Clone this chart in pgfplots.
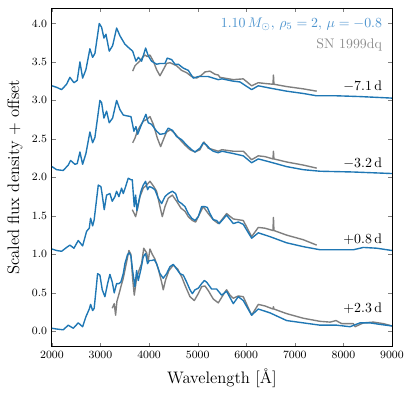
\documentclass[border=0pt]{standalone}
\usepackage{pgfplots}
\pgfplotsset{compat=1.18}
\definecolor{model}{HTML}{1F77B4}
\definecolor{obs}{HTML}{7F7F7F}
\definecolor{modeltext}{HTML}{4C93CE}
\definecolor{obstext}{HTML}{8E8E8E}
\begin{document}
\begin{tikzpicture}
\begin{axis}[
    width=245pt, height=244pt, scale only axis,
    xmin=2000, xmax=9000, ymin=-0.2, ymax=4.2,
    xtick={2000,3000,...,9000},
    ytick={0,0.5,...,4},
    tick pos=both, tick align=inside,
    major tick length=3pt,
    axis line style={line width=0.7pt},
    scaled x ticks=false,
    xticklabel style={/pgf/number format/set thousands separator={}},
    yticklabel style={/pgf/number format/fixed, /pgf/number format/fixed zerofill, /pgf/number format/precision=1},
    tick label style={font=\fontsize{8}{9}\selectfont},
    label style={font=\fontsize{12}{14}\selectfont},
    xlabel={Wavelength [\AA]},
    ylabel={Scaled flux density + offset},
    every axis plot/.style={line width=1pt, line join=round},
]
% -7.1 d
\addplot[obs] coordinates {
(3662,3.38)(3710,3.45)(3757,3.48)(3810,3.51)(3867,3.56)(3915,3.59)(3960,3.57)(4018,3.59)(4087,3.51)(4155,3.40)(4224,3.32)(4293,3.40)(4361,3.48)(4430,3.49)(4500,3.47)(4567,3.45)(4670,3.39)(4773,3.36)(4876,3.31)(4979,3.29)(5082,3.33)(5150,3.37)(5253,3.38)(5356,3.34)(5424,3.33)(5459,3.30)(5733,3.27)(5939,3.28)(6111,3.19)(6248,3.23)(6385,3.22)(6550,3.21)(6560,3.33)(6570,3.21)(6832,3.18)(7175,3.15)(7450,3.12)};
\addplot[model] coordinates {
(2000,3.19)(2097,3.17)(2200,3.14)(2302,3.21)(2370,3.30)(2453,3.23)(2521,3.26)(2577,3.50)(2632,3.29)(2700,3.40)(2782,3.67)(2838,3.56)(2885,3.61)(2975,4.00)(3023,3.95)(3071,3.81)(3112,3.86)(3180,3.64)(3249,3.71)(3332,3.94)(3400,3.84)(3503,3.73)(3571,3.69)(3662,3.64)(3730,3.51)(3780,3.56)(3846,3.51)(3929,3.68)(3983,3.58)(4050,3.51)(4155,3.47)(4225,3.48)(4327,3.48)(4374,3.55)(4465,3.53)(4533,3.47)(4602,3.47)(4704,3.42)(4807,3.39)(4910,3.29)(5012,3.31)(5115,3.31)(5218,3.31)(5321,3.29)(5424,3.27)(5500,3.28)(5733,3.25)(5870,3.24)(6111,3.14)(6248,3.19)(6489,3.16)(6832,3.12)(7175,3.09)(7450,3.06)(7862,3.06)(8342,3.05)(9000,3.03)};
% -3.2 d
\addplot[obs] coordinates {
(3662,2.45)(3710,2.51)(3757,2.60)(3810,2.66)(3880,2.73)(3946,2.75)(4018,2.79)(4087,2.69)(4170,2.51)(4238,2.40)(4306,2.51)(4361,2.59)(4443,2.62)(4533,2.57)(4636,2.49)(4739,2.42)(4842,2.36)(4945,2.33)(5047,2.36)(5129,2.46)(5218,2.38)(5321,2.36)(5424,2.34)(5500,2.36)(5733,2.34)(5939,2.34)(6111,2.23)(6248,2.28)(6385,2.27)(6550,2.24)(6560,2.34)(6570,2.24)(6832,2.20)(7175,2.16)(7450,2.12)};
\addplot[model] coordinates {
(2000,2.14)(2097,2.10)(2233,2.09)(2336,2.16)(2385,2.22)(2474,2.17)(2521,2.18)(2577,2.33)(2632,2.17)(2700,2.31)(2782,2.59)(2838,2.45)(2885,2.52)(2988,3.00)(3023,2.97)(3071,2.77)(3125,2.86)(3180,2.71)(3249,2.77)(3332,3.00)(3400,2.88)(3469,2.81)(3537,2.80)(3627,2.79)(3688,2.60)(3730,2.66)(3765,2.56)(3846,2.69)(3935,2.82)(3983,2.71)(4050,2.69)(4155,2.60)(4225,2.56)(4327,2.57)(4395,2.64)(4484,2.61)(4567,2.53)(4670,2.49)(4773,2.42)(4876,2.36)(4945,2.33)(5047,2.38)(5115,2.45)(5184,2.42)(5253,2.37)(5321,2.34)(5424,2.32)(5500,2.34)(5733,2.31)(5939,2.28)(6111,2.19)(6248,2.24)(6489,2.20)(6832,2.14)(7175,2.10)(7519,2.08)(8205,2.07)(9000,2.05)};
% +0.8 d
\addplot[obs] coordinates {
(3654,1.58)(3695,1.53)(3723,1.49)(3764,1.60)(3812,1.75)(3880,1.86)(3949,1.90)(4018,1.95)(4087,1.89)(4155,1.82)(4224,1.62)(4272,1.49)(4327,1.62)(4395,1.73)(4478,1.77)(4567,1.69)(4656,1.60)(4739,1.56)(4807,1.49)(4890,1.44)(4958,1.42)(5027,1.51)(5115,1.62)(5218,1.53)(5321,1.45)(5424,1.40)(5460,1.42)(5596,1.53)(5733,1.46)(5939,1.44)(6111,1.23)(6248,1.35)(6385,1.34)(6550,1.31)(6560,1.48)(6570,1.31)(6832,1.25)(7175,1.19)(7450,1.12)};
\addplot[model] coordinates {
(2000,1.07)(2097,1.05)(2200,1.04)(2302,1.09)(2370,1.12)(2453,1.08)(2542,1.18)(2632,1.11)(2714,1.30)(2769,1.34)(2796,1.47)(2838,1.37)(2870,1.45)(2954,1.90)(3009,1.88)(3036,1.77)(3077,1.58)(3125,1.77)(3194,1.79)(3242,1.69)(3297,1.75)(3331,1.82)(3379,1.75)(3434,1.86)(3469,1.79)(3517,1.88)(3571,1.99)(3626,1.97)(3654,1.97)(3695,1.62)(3723,1.77)(3750,1.57)(3778,1.66)(3833,1.82)(3880,1.90)(3928,1.95)(3969,1.84)(4004,1.88)(4052,1.87)(4120,1.84)(4189,1.73)(4258,1.66)(4327,1.75)(4395,1.79)(4478,1.82)(4546,1.79)(4601,1.69)(4670,1.66)(4739,1.62)(4807,1.53)(4876,1.47)(4945,1.44)(5013,1.49)(5082,1.62)(5150,1.62)(5198,1.61)(5253,1.53)(5321,1.45)(5390,1.44)(5445,1.40)(5596,1.51)(5733,1.40)(5836,1.42)(5939,1.39)(6111,1.21)(6248,1.28)(6489,1.23)(6832,1.15)(7175,1.10)(7519,1.06)(7862,1.06)(8205,1.06)(8411,1.09)(8686,1.08)(9000,1.05)};
% +2.3 d
\addplot[obs] coordinates {
(3242,0.30)(3283,0.36)(3311,0.21)(3338,0.39)(3379,0.48)(3420,0.58)(3469,0.69)(3537,0.90)(3585,1.05)(3626,1.00)(3661,0.69)(3695,0.47)(3743,0.69)(3792,0.79)(3846,0.88)(3890,1.08)(3949,1.02)(3983,0.92)(4018,1.07)(4066,1.00)(4120,0.94)(4189,0.81)(4258,0.64)(4292,0.54)(4340,0.67)(4409,0.79)(4498,0.86)(4587,0.81)(4670,0.71)(4752,0.58)(4842,0.45)(4931,0.40)(5013,0.49)(5082,0.58)(5150,0.59)(5218,0.53)(5321,0.42)(5424,0.37)(5561,0.51)(5596,0.54)(5665,0.47)(5733,0.43)(5836,0.46)(5939,0.45)(6111,0.21)(6248,0.35)(6385,0.33)(6550,0.29)(6560,0.32)(6570,0.29)(6832,0.23)(7175,0.17)(7519,0.13)(7725,0.12)(7848,0.14)(7965,0.10)(8205,0.10)(8240,0.06)(8411,0.11)(8617,0.12)(8823,0.10)(9000,0.07)};
\addplot[model] coordinates {
(2000,0.04)(2097,0.03)(2233,0.02)(2336,0.08)(2440,0.04)(2542,0.11)(2632,0.06)(2700,0.19)(2769,0.29)(2796,0.35)(2838,0.27)(2870,0.30)(2910,0.55)(2940,0.75)(2988,0.73)(3036,0.54)(3091,0.45)(3146,0.62)(3194,0.74)(3242,0.64)(3283,0.50)(3331,0.62)(3379,0.62)(3420,0.64)(3469,0.75)(3503,0.88)(3558,1.00)(3592,1.02)(3626,0.98)(3661,0.79)(3709,0.58)(3743,0.79)(3778,0.66)(3833,0.81)(3880,0.97)(3928,1.01)(3969,0.88)(4004,0.92)(4052,0.92)(4107,0.93)(4155,0.88)(4224,0.75)(4292,0.69)(4361,0.75)(4430,0.84)(4498,0.87)(4567,0.81)(4636,0.75)(4704,0.73)(4773,0.64)(4842,0.54)(4890,0.49)(4945,0.54)(5013,0.56)(5082,0.62)(5137,0.66)(5184,0.64)(5287,0.55)(5390,0.55)(5493,0.47)(5596,0.52)(5733,0.36)(5836,0.45)(5939,0.40)(6111,0.21)(6248,0.29)(6489,0.24)(6832,0.14)(7175,0.11)(7519,0.08)(7862,0.08)(8136,0.06)(8342,0.11)(8548,0.11)(8754,0.09)(9000,0.07)};
\begin{scope}[every node/.style={anchor=east, font=\fontsize{10}{12}\selectfont, inner sep=0pt}]
\node[text=modeltext] at (axis cs:8800,3.99) {$1.10\,M_{\odot}$, $\rho_5=2$, $\mu=-0.8$};
\node[text=obstext] at (axis cs:8800,3.72) {SN 1999dq};
\node at (axis cs:8800,3.18) {$-7.1\,$d};
\node at (axis cs:8800,2.19) {$-3.2\,$d};
\node at (axis cs:8800,1.20) {$+0.8\,$d};
\node at (axis cs:8800,0.30) {$+2.3\,$d};
\end{scope}
\end{axis}
\path ([xshift=-37.4pt,yshift=-37.4pt]current axis.south west) rectangle ([xshift=17.3pt,yshift=5.8pt]current axis.north east);
\end{tikzpicture}
\end{document}
